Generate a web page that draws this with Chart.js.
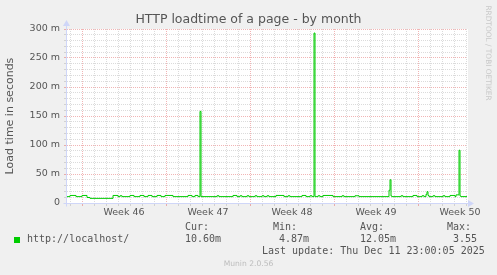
<!DOCTYPE html>
<html>
<head>
<meta charset="utf-8">
<title>HTTP loadtime of a page - by month</title>
<script src="https://cdn.jsdelivr.net/npm/chart.js@4.4.1/dist/chart.umd.min.js"></script>
<style>
    html, body { margin: 0; padding: 0; background: #f0f0f0; }
    #wrap {
        position: relative; width: 497px; height: 275px; overflow: hidden;
        background: #f0f0f0; color: #666; font-family: "DejaVu Sans", sans-serif;
    }
    #wrap canvas { position: absolute; left: 0; top: 0; }
    .t { position: absolute; white-space: pre; }
    .mono { font-family: "DejaVu Sans Mono", monospace; font-size: 10px; line-height: 12px; color: #555; }
</style>
</head>
<body>
<div id="wrap">
    <canvas id="loadChart" width="497" height="275"></canvas>
    <div class="t" style="left:0; top:11px; width:497px; text-align:center; font-size:12.5px; line-height:16px; color:#555;">HTTP loadtime of a page - by month</div>
    <div class="t" style="left:-60px; top:109px; width:140px; height:14px; line-height:14px; text-align:center; font-size:11px; color:#555; transform:rotate(-90deg);">Load time in seconds</div>
    <div class="t" style="left:438px; top:48px; width:100px; height:10px; line-height:10px; text-align:center; font-size:7.4px; color:#c8c8c8; transform:rotate(90deg);">RRDTOOL / TOBI OETIKER</div>
    <div id="legend"></div>
    <div class="t" style="left:0; top:259px; width:497px; text-align:center; font-size:7.6px; line-height:10px; color:#bdbdbd;">Munin 2.0.56</div>
</div>
<script>
// tick labels
const weekLabels = ["Week 46", "Week 47", "Week 48", "Week 49", "Week 50"];
const yTickLabels = ["0", "50 m", "100 m", "150 m", "200 m", "250 m", "300 m"];

// load time (ms), hours since Mon 10 Nov 2025 00:00,
// each value holds until the next entry
const hours = [
    -30, -24, -12, 0, 10, 16, 62, 72, 76, 80, 96, 104, 116, 124, 132, 140,
    150, 158, 166, 182, 212, 220, 226, 232, 236, 238, 270, 274, 302, 310,
    316, 320, 330, 334, 346, 350, 360, 364, 370, 374, 388, 404, 412, 416,
    440, 448, 456, 460, 464, 466, 472, 476, 482, 502, 520, 524, 546, 554,
    614, 616, 618, 620, 638, 642, 662, 670, 680, 684, 688, 690, 692, 694,
    702, 706, 722, 726, 736, 746, 748, 754, 756, 758, 770
];
const loadMs = [
    11, 13, 11, 13, 9.5, 8, 13, 11, 12.5, 11, 13, 11, 13, 11, 13, 11,
    13, 11, 13, 11, 13, 11, 13, 11, 158, 11, 12.5, 11, 13, 11,
    12.5, 11, 12.5, 11, 12.5, 11, 12.5, 11, 12.5, 11, 13, 11, 12.5, 11,
    13, 11, 12.5, 11, 293, 11, 12.5, 11, 13, 11, 12.5, 11, 12.5, 11,
    22, 40, 12, 11, 12.5, 11, 13, 11, 12.5, 11, 15, 19.5, 13, 11,
    12.5, 11, 12.5, 11, 13, 11, 14, 91, 12, 11, 11
];

// legend
const seriesName = "http://localhost/";
const statNames = ["Cur:", "Min:", "Avg:", "Max:"];
const statValues = ["10.60m", "4.87m", "12.05m", "3.55"];
const lastUpdate = "Last update: Thu Dec 11 23:00:05 2025";

const lineColor = "#00cc00";
const majorGrid = "rgba(222, 79, 79, 0.42)";
const minorGrid = "rgba(143, 143, 143, 0.32)";
const axisColor = "#cfd6f8";

// legend block under the graph
const legend = document.getElementById("legend");
function addText(text, left, top) {
    const el = document.createElement("div");
    el.className = "t mono";
    el.style.left = left + "px";
    el.style.top = top + "px";
    el.textContent = text;
    legend.appendChild(el);
    return el;
}
const swatch = document.createElement("div");
swatch.style.cssText = "position:absolute;left:14px;top:237px;width:6px;height:6px;background:" + lineColor;
legend.appendChild(swatch);
addText(seriesName, 27, 233);
const statLeft = [185, 273, 360, 447];
const valueLeft = [185, 279, 360, 453];
statNames.forEach((name, i) => {
    addText(name, statLeft[i], 221);
    addText(statValues[i], valueLeft[i], 233);
});
addText(lastUpdate, 262, 245);

const rrdFrame = {
    id: "rrdFrame",
    beforeDraw(chart) {
        const { ctx, chartArea: a } = chart;
        ctx.save();
        ctx.fillStyle = "#ffffff";
        ctx.fillRect(a.left, a.top, a.right - a.left + 1, a.bottom - a.top);
        ctx.restore();
    },
    afterDraw(chart) {
        const { ctx, chartArea: a } = chart;
        const x0 = Math.round(a.left) - 0.5;
        const y0 = Math.round(a.bottom) + 0.5;
        ctx.save();
        ctx.strokeStyle = axisColor;
        ctx.fillStyle = axisColor;
        ctx.lineWidth = 1;
        ctx.beginPath();
        ctx.moveTo(x0 - 3, y0);
        ctx.lineTo(a.right + 1, y0);
        ctx.moveTo(x0, y0 + 3);
        ctx.lineTo(x0, a.top - 3);
        ctx.stroke();
        ctx.beginPath();
        ctx.moveTo(a.right + 1, y0 - 3.5);
        ctx.lineTo(a.right + 7, y0);
        ctx.lineTo(a.right + 1, y0 + 3.5);
        ctx.closePath();
        ctx.fill();
        ctx.beginPath();
        ctx.moveTo(x0 - 3.5, a.top - 3);
        ctx.lineTo(x0, a.top - 9);
        ctx.lineTo(x0 + 3.5, a.top - 3);
        ctx.closePath();
        ctx.fill();
        ctx.restore();
    },
};

const isLabelTick = (v) => ((v - 84) % 168 + 168) % 168 === 0;

const ctx = document.getElementById("loadChart").getContext("2d");
const loadChart = new Chart(ctx, {
    type: "line",
    data: {
        datasets: [
            {
                label: seriesName,
                data: hours.map((h, i) => ({ x: h, y: loadMs[i] })),
                borderColor: lineColor,
                borderWidth: 1,
                pointRadius: 0,
                stepped: true,
                fill: false,
            },
        ],
    },
    options: {
        responsive: false,
        animation: false,
        devicePixelRatio: 1,
        layout: { padding: { left: 0, right: 30, top: 29, bottom: 50 } },
        plugins: {
            legend: { display: false },
            tooltip: { enabled: false },
        },
        scales: {
            x: {
                type: "linear",
                min: -30,
                max: 770,
                afterFit: (scale) => { scale.height = 22; },
                afterBuildTicks: (scale) => {
                    const ticks = [];
                    for (let h = -24; h <= 768; h += 24) ticks.push({ value: h });
                    weekLabels.forEach((w, i) => ticks.push({ value: i * 168 + 84 }));
                    ticks.sort((p, q) => p.value - q.value);
                    scale.ticks = ticks;
                },
                border: { display: false, dash: [1, 1] },
                grid: {
                    lineWidth: 1,
                    tickLength: 3,
                    color: (c) => {
                        const v = c.tick ? c.tick.value : 0;
                        if (isLabelTick(v)) return "rgba(0,0,0,0)";
                        return v % 168 === 0 ? majorGrid : minorGrid;
                    },
                    tickColor: (c) => {
                        const v = c.tick ? c.tick.value : 0;
                        if (isLabelTick(v)) return "rgba(0,0,0,0)";
                        return v % 168 === 0 ? majorGrid : minorGrid;
                    },
                },
                ticks: {
                    autoSkip: false,
                    maxRotation: 0,
                    padding: 1,
                    color: "#555",
                    font: { family: "DejaVu Sans", size: 9.5 },
                    callback: (v) => (isLabelTick(v) ? weekLabels[(v - 84) / 168] : ""),
                },
            },
            y: {
                min: 0,
                max: 300,
                afterFit: (scale) => { scale.width = 67; },
                border: { display: false, dash: [1, 1] },
                grid: {
                    lineWidth: 1,
                    tickLength: 3,
                    color: (c) => (c.tick && c.tick.value % 50 === 0 ? majorGrid : minorGrid),
                    tickColor: (c) => (c.tick && c.tick.value % 50 === 0 ? majorGrid : minorGrid),
                },
                ticks: {
                    stepSize: 10,
                    autoSkip: false,
                    padding: 4,
                    color: "#555",
                    font: { family: "DejaVu Sans", size: 9.5 },
                    callback: (v) => (v % 50 === 0 ? yTickLabels[v / 50] : ""),
                },
            },
        },
    },
    plugins: [rrdFrame],
});

console.log("Chart created:", loadChart.chartArea);
</script>
</body>
</html>
